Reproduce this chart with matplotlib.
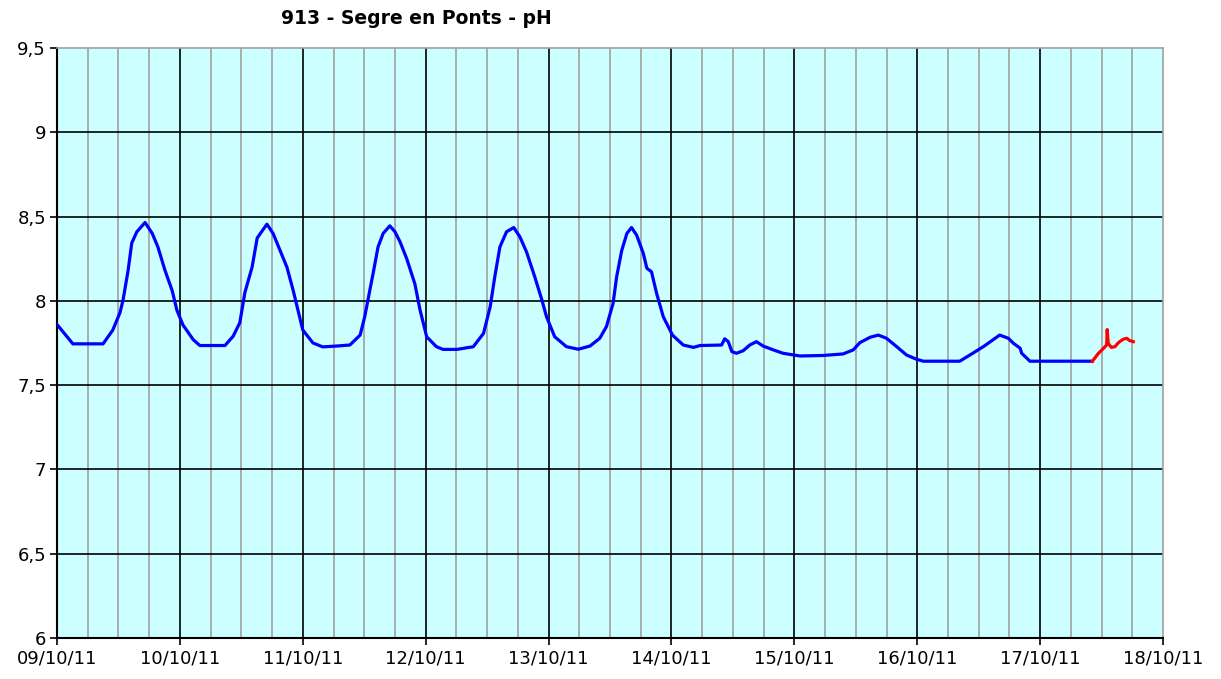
from datetime import datetime, timedelta

import numpy
from matplotlib import pyplot as plt
import matplotlib.dates as mdates

start = datetime(2011, 10, 9, 0)

# hours since 09/10/11 00:00 and pH
blue_hours = [0.0, 3.1, 9.0, 10.9, 12.3, 12.9, 13.9, 14.6, 15.6, 17.2, 18.6, 19.7, 21.1, 22.5,
              23.4, 24.6, 26.6, 27.9, 32.8, 34.4, 35.7, 36.7, 38.1, 39.1, 41.0, 42.2, 44.9,
              46.1, 48.0, 50.0, 51.9, 54.6, 57.2, 59.2, 60.1, 61.1, 61.8, 62.7, 63.7, 65.0,
              66.0, 67.0, 68.3, 69.9, 70.9, 72.2, 74.1, 75.4, 78.1, 81.3, 83.3, 84.6, 85.5,
              86.5, 87.8, 89.2, 90.4, 91.7, 93.3, 94.7, 95.6, 97.2, 99.5, 101.8, 104.1, 106.0,
              107.3, 108.6, 109.3, 110.3, 111.3, 112.2, 113.2, 114.5, 115.2, 116.1, 117.1,
              118.4, 120.2, 122.3, 124.3, 125.6, 129.8, 130.4, 131.1, 131.8, 132.7, 134.0,
              135.3, 136.6, 137.9, 139.9, 141.8, 145.1, 149.6, 153.5, 155.5, 156.8, 158.8,
              160.4, 162.0, 164.0, 165.9, 167.9, 169.2, 176.3, 178.3, 180.9, 184.1, 185.8,
              186.8, 188.1, 188.4, 189.4, 190.0, 202.2]
blue_ph = [7.86, 7.745, 7.745, 7.827, 7.93, 8.005, 8.183, 8.343, 8.41, 8.465, 8.40, 8.32, 8.18,
           8.06, 7.946, 7.857, 7.77, 7.735, 7.735, 7.79, 7.87, 8.05, 8.20, 8.373, 8.455, 8.40,
           8.20, 8.065, 7.827, 7.75, 7.727, 7.732, 7.738, 7.797, 7.906, 8.064, 8.173, 8.32,
           8.40, 8.445, 8.41, 8.35, 8.25, 8.10, 7.946, 7.787, 7.728, 7.712, 7.712, 7.728,
           7.807, 7.965, 8.143, 8.32, 8.41, 8.435, 8.38, 8.29, 8.143, 8.005, 7.906, 7.787,
           7.728, 7.713, 7.732, 7.778, 7.847, 7.985, 8.143, 8.30, 8.40, 8.435, 8.39, 8.282,
           8.193, 8.173, 8.045, 7.906, 7.797, 7.738, 7.724, 7.735, 7.738, 7.775, 7.758,
           7.699, 7.689, 7.704, 7.738, 7.758, 7.732, 7.709, 7.689, 7.673, 7.676, 7.685,
           7.709, 7.752, 7.784, 7.797, 7.778, 7.728, 7.679, 7.653, 7.642, 7.642, 7.679,
           7.728, 7.797, 7.778, 7.748, 7.719, 7.689, 7.66, 7.642, 7.642]
red_hours = [202.2, 203.4, 204.4, 205.0, 205.1, 205.3, 205.9, 206.6, 207.3, 208.2, 208.9,
             209.5, 210.2]
red_ph = [7.642, 7.689, 7.719, 7.738, 7.83, 7.748, 7.724, 7.728, 7.752, 7.772, 7.778,
          7.764, 7.758]

title = "913 - Segre en Ponts - pH"


def toDates(hours):
  return [start + timedelta(hours=h) for h in hours]


def main():
  fig = plt.figure(figsize=(12.21, 6.79), dpi=100)
  ax = fig.add_axes([57 / 1221, 1 - 638 / 679, (1163 - 57) / 1221, (638 - 48) / 679])
  ax.set_facecolor('#ccffff')

  # grid: grey every 6 hours, black every day and every 0.5 pH
  end = start + timedelta(days=9)
  for k in range(1, 36):
    t = start + timedelta(hours=6 * k)
    if k % 4 == 0:
      ax.axvline(t, color='black', lw=1.2, zorder=1)
    else:
      ax.axvline(t, color='#a0a0a0', lw=1.2, zorder=1)
  for v in numpy.arange(6.5, 9.5, 0.5):
    ax.axhline(v, color='black', lw=1.2, zorder=1)

  ax.plot(toDates(blue_hours), blue_ph, color='#0000ff', lw=2.3, zorder=3)
  ax.plot(toDates(red_hours), red_ph, color='#ff0000', lw=2.3, zorder=3)

  ax.set_xlim(start, end)
  ax.set_ylim(6, 9.5)
  ax.xaxis.set_major_locator(mdates.DayLocator())
  ax.xaxis.set_major_formatter(mdates.DateFormatter('%d/%m/%y'))
  yt = numpy.arange(6, 9.51, 0.5)
  ax.set_yticks(yt)
  ax.set_yticklabels([f"{v:g}".replace('.', ',') for v in yt])
  ax.tick_params(axis='both', direction='out', length=5, width=1.2, labelsize=13,
                 colors='black', pad=3)

  for side in ['top', 'right']:
    ax.spines[side].set_color('#a0a0a0')
    ax.spines[side].set_linewidth(1.2)
  for side in ['left', 'bottom']:
    ax.spines[side].set_color('black')
    ax.spines[side].set_linewidth(1.5)

  fig.text(416 / 1221, 1 - 18 / 679, title, ha='center', va='center',
           fontsize=13.5, fontweight='bold')

  fig.savefig('out.png', dpi=100)


if __name__ == "__main__":
  main()
